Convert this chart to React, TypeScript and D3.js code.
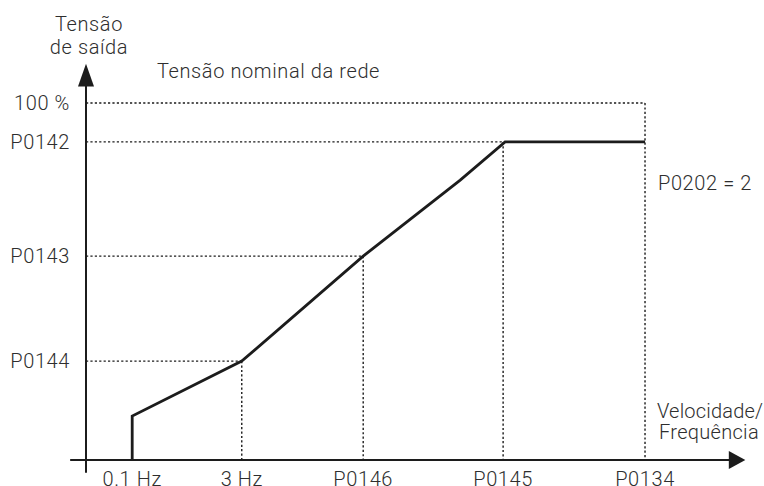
import React, { ReactElement, useEffect, useRef } from "react";
import * as d3 from "d3";

// x in % of axis length, y in % of nominal voltage
const xTickLabels = ["0.1 Hz", "3 Hz", "P0146", "P0145", "P0134"];
const xTickValues = [7.0, 23.6, 42.0, 63.2, 84.7];
const yTickLabels = ["P0144", "P0143", "P0142", "100 %"];
const yTickValues = [27.7, 57.1, 89.1, 100];
// output voltage curve (V/f)
const curveX = [7.0, 7.0, 23.6, 42.0, 56.7, 63.5, 84.7];
const curveY = [0, 12.3, 27.7, 57.1, 78.4, 89.1, 89.1];

function App(): ReactElement {
  const ref = useRef<SVGSVGElement>(null);

  useEffect(() => {
    drawChart();
  });

  const drawChart = () => {
    const width = 764;
    const height = 486;
    const left = 86; // y axis
    const bottom = 460; // x axis
    const x = d3.scaleLinear().domain([0, 100]).range([left, left + 660]);
    const y = d3.scaleLinear().domain([0, 100]).range([bottom, 103]);
    const ink = "#1c1c1c";
    const textCol = "#2e2e2e";
    const font = "Roboto, 'Liberation Sans', Arial, sans-serif";

    const svg = d3.select(ref.current).attr("width", width).attr("height", height);
    svg.selectAll("*").remove();

    // dotted guide lines
    const guides = svg.append("g").attr("stroke", ink).attr("stroke-width", 1.4).attr("stroke-dasharray", "2.2,2.2").attr("fill", "none");
    yTickValues.forEach((v, i) => {
      const xEnd = i === 3 ? xTickValues[4] : xTickValues[i + 1];
      guides.append("line").attr("x1", x(0)).attr("x2", x(xEnd)).attr("y1", y(v)).attr("y2", y(v));
    });
    xTickValues.slice(1).forEach((v, i) => {
      const yTop = i === 3 ? yTickValues[3] : yTickValues[i];
      guides.append("line").attr("x1", x(v)).attr("x2", x(v)).attr("y1", y(yTop)).attr("y2", y(0));
    });

    // axes
    svg.append("line").attr("x1", x(-2.4)).attr("x2", x(97.5)).attr("y1", y(0)).attr("y2", y(0)).attr("stroke", ink).attr("stroke-width", 2);
    svg.append("line").attr("x1", x(0)).attr("x2", x(0)).attr("y1", y(-3.6)).attr("y2", y(106)).attr("stroke", ink).attr("stroke-width", 2);
    svg.append("path")
      .attr("d", `M${x(97.4)},${y(0) - 9}L${x(99.9)},${y(0)}L${x(97.4)},${y(0) + 9}Z`)
      .attr("fill", ink);
    svg.append("path")
      .attr("d", `M${x(0) - 8},${y(104.6)}L${x(0)},${y(111)}L${x(0) + 8},${y(104.6)}Z`)
      .attr("fill", ink);

    // curve
    const line = d3.line<number>().x((d) => x(d)).y((d, i) => y(curveY[i]));
    svg.append("path")
      .datum(curveX)
      .attr("d", line)
      .attr("fill", "none")
      .attr("stroke", ink)
      .attr("stroke-width", 2.8)
      .attr("stroke-linejoin", "miter");

    const txt = svg.append("g").attr("font-family", font).attr("font-weight", 300).attr("font-size", 20).attr("fill", textCol).attr("letter-spacing", 0.6);
    yTickLabels.forEach((t, i) => {
      txt.append("text").attr("x", 70).attr("y", y(yTickValues[i]) + 7).attr("text-anchor", "end").text(t);
    });
    xTickLabels.forEach((t, i) => {
      txt.append("text").attr("x", x(xTickValues[i])).attr("y", 486).attr("text-anchor", "middle").text(t);
    });

    txt.append("text").attr("x", 89).attr("y", 31).attr("text-anchor", "middle").text("Tensão");
    txt.append("text").attr("x", 89).attr("y", 54).attr("text-anchor", "middle").text("de saída");
    txt.append("text").attr("x", 157).attr("y", 78).text("Tensão nominal da rede");
    txt.append("text").attr("x", 658).attr("y", 190).text("P0202 = 2");
    txt.append("text").attr("x", 657).attr("y", 418).attr("letter-spacing", 0.2).text("Velocidade/");
    txt.append("text").attr("x", 659).attr("y", 439).attr("letter-spacing", 0.3).text("Frequência");
  };

  return (
    <div>
      <svg ref={ref} style={{ position: "absolute", left: 0, top: 0 }}></svg>
    </div>
  );
}

export default App;
